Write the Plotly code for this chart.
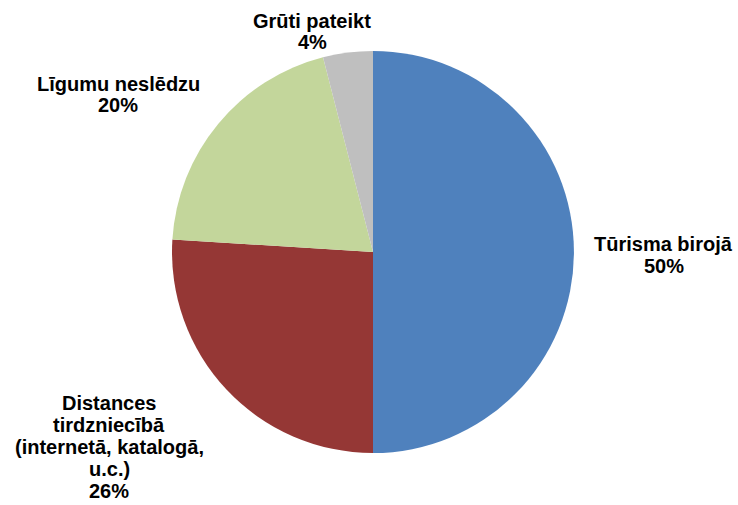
import plotly.graph_objects as go

# Survey answers and their shares (percent)
categories = ["Tūrisma birojā", "Distances<br>tirdzniecībā<br>(internetā, katalogā,<br>u.c.)",
              "Līgumu neslēdzu", "Grūti pateikt"]
values = [50, 26, 20, 4]
colors = ["#4F81BD", "#953735", "#C3D69B", "#BFBFBF"]

W, H = 738, 505
cx, cy, r = 373, 252, 201

# Label block placement in pixels: horizontal centre and centre of the first line
label_px = [(663.5, 243.5), (109, 402.5), (118, 83.5), (312, 20.5)]
line_step = 22  # spacing between label lines, px

fig = go.Figure(go.Pie(
    values=values,
    labels=categories,
    marker=dict(colors=colors, line=dict(width=0)),
    sort=False,
    direction="clockwise",
    rotation=0,
    textinfo="none",
    hoverinfo="label+percent",
    domain=dict(x=[(cx - r) / W, (cx + r) / W],
                y=[(H - cy - r) / H, (H - cy + r) / H]),
    showlegend=False,
))

total = sum(values)
for name, v, (px, py) in zip(categories, values, label_px):
    lines = name.split("<br>") + [f"{round(100 * v / total)}%"]
    for i, line in enumerate(lines):
        fig.add_annotation(
            x=px / W, y=1 - (py + i * line_step) / H,
            xref="paper", yref="paper",
            text=f"<b>{line}</b>",
            showarrow=False, align="center",
            xanchor="center", yanchor="middle",
            borderpad=0,
            font=dict(family="Liberation Sans, Arial, sans-serif", size=20, color="#000000"),
        )

fig.update_layout(
    width=W, height=H,
    margin=dict(l=0, r=0, t=0, b=0),
    paper_bgcolor="white",
    plot_bgcolor="white",
)

fig.write_html("out.html")
